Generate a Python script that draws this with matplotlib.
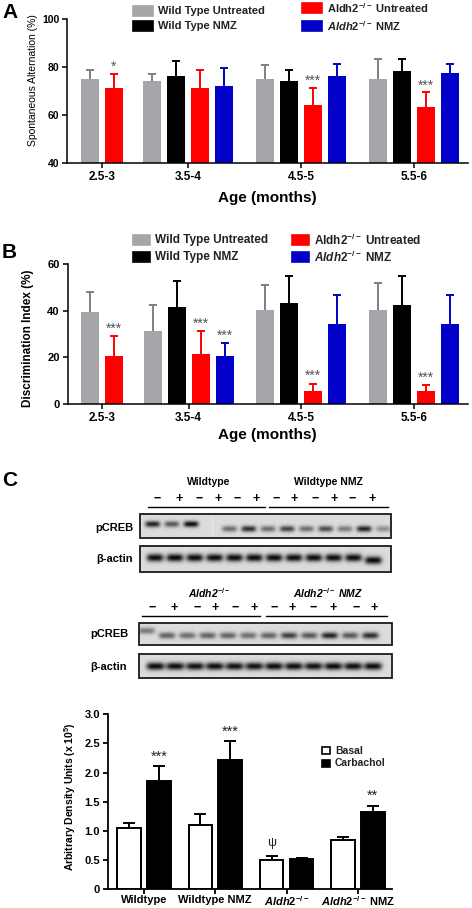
import numpy as np
import matplotlib
matplotlib.use("Agg")
import matplotlib.pyplot as plt
from matplotlib.patches import Rectangle

W, H = 472, 908

plt.rcParams["font.family"] = ["Liberation Sans", "DejaVu Sans"]
plt.rcParams["font.weight"] = "bold"
plt.rcParams["mathtext.fontset"] = "custom"
plt.rcParams["mathtext.rm"] = "Liberation Sans:bold"
plt.rcParams["mathtext.it"] = "Liberation Sans:italic:bold"
plt.rcParams["mathtext.bf"] = "Liberation Sans:bold"

# ---- data -------------------------------------------------------------
ages = ["2.5-3", "3.5-4", "4.5-5", "5.5-6"]
series_names = ["Wild Type Untreated", "Wild Type NMZ",
                r"Aldh2$^{-/-}$ Untreated", r"$\mathit{Aldh2}^{-/-}$ NMZ"]
nan = np.nan

# A: spontaneous alternation (%)
sa_wt_untr = [75.1, 74.3, 75.1, 75.1]
sa_wt_untr_err = [3.8, 2.9, 5.6, 8.1]
sa_wt_nmz = [nan, 76.1, 74.3, 78.2]
sa_wt_nmz_err = [nan, 6.4, 4.6, 5.2]
sa_ko_untr = [71.3, 71.3, 64.2, 63.2]
sa_ko_untr_err = [5.9, 7.6, 7.0, 6.2]
sa_ko_nmz = [nan, 72.2, 76.1, 77.3]
sa_ko_nmz_err = [nan, 7.2, 5.0, 4.1]
sa_stars = [["", "", "", ""], ["", "", "", ""], ["*", "", "***", "***"], ["", "", "", ""]]

# B: discrimination index (%)
di_wt_untr = [39.4, 31.4, 40.3, 40.3]
di_wt_untr_err = [8.6, 10.9, 10.8, 11.7]
di_wt_nmz = [nan, 41.7, 43.4, 42.4]
di_wt_nmz_err = [nan, 10.9, 11.5, 12.5]
di_ko_untr = [20.4, 21.3, 5.4, 5.4]
di_ko_untr_err = [8.7, 9.8, 3.3, 2.6]
di_ko_nmz = [nan, 20.4, 34.1, 34.1]
di_ko_nmz_err = [nan, 5.6, 12.8, 12.8]
di_stars = [["", "", "", ""], ["", "", "", ""], ["***", "***", "***", "***"], ["", "***", "", ""]]

# C: pCREB density (x 10^5)
c_groups = ["Wildtype", "Wildtype NMZ", r"$\mathit{Aldh2}^{-/-}$", r"$\mathit{Aldh2}^{-/-}$ NMZ"]
c_basal = [1.05, 1.10, 0.49, 0.85]
c_basal_err = [0.09, 0.18, 0.07, 0.05]
c_carb = [1.85, 2.22, 0.52, 1.32]
c_carb_err = [0.26, 0.32, 0.02, 0.11]
c_basal_marks = ["", "", "\u03c8", ""]
c_carb_marks = ["***", "***", "", "**"]

# blot band darkness per lane (0 = no band)
blot1_pcreb = [0.85, 0.6, 0.95, 0.0, 0.5, 0.8, 0.5, 0.7, 0.5, 0.65, 0.45, 0.85, 0.35]
blot1_actin = [0.95, 0.97, 0.95, 0.95, 0.95, 0.95, 0.95, 0.95, 0.95, 0.95, 0.95, 0.97]
blot2_pcreb = [0.45, 0.55, 0.5, 0.55, 0.55, 0.5, 0.55, 0.72, 0.6, 0.85, 0.6, 0.8]
blot2_actin = [0.97, 0.95, 0.93, 0.95, 0.93, 0.93, 0.95, 0.95, 0.93, 0.95, 0.95, 0.95]
signs = ["\u2212", "+", "\u2212", "+", "\u2212", "+"]

colors = ["#a6a6aa", "#000000", "#ff0000", "#0000c8"]
err_colors = ["#7f7f7f", "#000000", "#ff0000", "#0000c8"]
star_color = "#555555"

fig = plt.figure(figsize=(W / 100, H / 100), dpi=100)


def px_axes(x0, y0, x1, y1):
    return fig.add_axes([x0 / W, 1 - y1 / H, (x1 - x0) / W, (y1 - y0) / H])


def style_axes(ax, lw=1.1):
    for s in ("top", "right"):
        ax.spines[s].set_visible(False)
    for s in ("left", "bottom"):
        ax.spines[s].set_linewidth(lw)
    ax.tick_params(direction="out", length=3.5, width=lw, pad=2)


def upper_err(ax, x, y, e, color, capsize, lw=1.4):
    _, caps, _ = ax.errorbar(x, y, yerr=[[0], [e]], fmt="none", ecolor=color,
                             elinewidth=lw, capsize=capsize, capthick=lw, zorder=1)
    caps[0].remove()


def grouped(ax, values, errors, stars, group_pos, star_off):
    nser = len(values)
    for g in range(len(group_pos)):
        present = [s for s in range(nser) if not np.isnan(values[s][g])]
        offs = np.arange(len(present)) - (len(present) - 1) / 2
        for k, s in enumerate(present):
            x = group_pos[g] + offs[k]
            ax.bar(x, values[s][g], width=0.75, color=colors[s], zorder=2)
            upper_err(ax, x, values[s][g], errors[s][g], err_colors[s], 3.2)
            if stars[s][g]:
                ax.annotate(stars[s][g], (x, values[s][g] + errors[s][g]),
                            xytext=(0, star_off), textcoords="offset points",
                            ha="center", va="center", color=star_color,
                            fontsize=10, fontweight="normal")


group_pos = [1.45, 5.05, 9.75, 14.45]

# ---- panel A ----------------------------------------------------------
axA = px_axes(67, 19, 468, 163)
grouped(axA, [sa_wt_untr, sa_wt_nmz, sa_ko_untr, sa_ko_nmz],
        [sa_wt_untr_err, sa_wt_nmz_err, sa_ko_untr_err, sa_ko_nmz_err],
        sa_stars, group_pos, 5)
axA.set_ylim(40, 100)
axA.set_xlim(0, 16.7)
axA.set_yticks([40, 60, 80, 100])
axA.set_xticks(group_pos)
axA.set_xticklabels(ages, fontsize=8.5)
axA.tick_params(axis="y", labelsize=7.5)
style_axes(axA)

# ---- panel B ----------------------------------------------------------
axB = px_axes(67.5, 264, 468, 404)
grouped(axB, [di_wt_untr, di_wt_nmz, di_ko_untr, di_ko_nmz],
        [di_wt_untr_err, di_wt_nmz_err, di_ko_untr_err, di_ko_nmz_err],
        di_stars, group_pos, 5.5)
axB.set_ylim(0, 60)
axB.set_xlim(0, 16.7)
axB.set_yticks([0, 20, 40, 60])
axB.set_xticks(group_pos)
axB.set_xticklabels(ages, fontsize=8.5)
axB.tick_params(axis="y", labelsize=8)
style_axes(axB)

# ---- panel C bars -----------------------------------------------------
axC = px_axes(107.7, 714.3, 392, 889)
cx = np.arange(len(c_groups))
bw, off = 0.33, 0.21
for i in cx:
    axC.bar(i - off, c_basal[i], width=bw, color="white", edgecolor="black", linewidth=1.4, zorder=2)
    axC.bar(i + off, c_carb[i], width=bw, color="black", edgecolor="black", linewidth=1.4, zorder=2)
    upper_err(axC, i - off, c_basal[i], c_basal_err[i], "black", 4)
    upper_err(axC, i + off, c_carb[i], c_carb_err[i], "black", 4)
    if c_carb_marks[i]:
        axC.annotate(c_carb_marks[i], (i + off, c_carb[i] + c_carb_err[i]), xytext=(0, 7),
                     textcoords="offset points", ha="center", va="center",
                     fontsize=10.5, fontweight="normal", color="#222222")
    if c_basal_marks[i]:
        axC.annotate(c_basal_marks[i], (i - off, c_basal[i] + c_basal_err[i]), xytext=(0, 10),
                     textcoords="offset points", ha="center", va="center",
                     fontsize=9, fontweight="normal", color="#222222")
axC.set_xlim(-0.51, 3.48)
axC.set_ylim(0, 3.0)
axC.set_yticks([0, 0.5, 1.0, 1.5, 2.0, 2.5, 3.0])
axC.set_yticklabels(["0", "0.5", "1.0", "1.5", "2.0", "2.5", "3.0"], fontsize=8)
axC.set_xticks(cx)
axC.set_xticklabels(c_groups, fontsize=8)
style_axes(axC, lw=1.3)
axC.tick_params(axis="x", pad=0.5)

# ---- overlay for labels, legends and blots ----------------------------
ov = fig.add_axes([0, 0, 1, 1])
ov.patch.set_visible(False)
ov.axis("off")

# panel letters
for letter, y in (("A", 12), ("B", 252), ("C", 481)):
    ov.text(2, y, letter, fontsize=15, fontweight="bold", va="center", ha="left")

# axis titles
ov.text(267, 198, "Age (months)", fontsize=11, ha="center", va="center")
ov.text(267, 435, "Age (months)", fontsize=11, ha="center", va="center")
ov.text(33, 80, "Spontaneous Alternation (%)", fontsize=7.5, fontweight="normal",
        rotation=90, ha="center", va="center")
ov.text(28, 338, "Discrimination Index (%)", fontsize=8.5, rotation=90, ha="center", va="center")
ov.text(70, 797, r"Arbitrary Density Units (x 10$^5$)", fontsize=7.5, rotation=90,
        ha="center", va="center")


def legend_item(x, y, w, h, fc, label, fs, ec=None):
    ov.add_patch(Rectangle((x, y - h / 2), w, h, facecolor=fc, edgecolor=ec or fc, lw=1.2))
    ov.text(x + w + 5, y, label, fontsize=fs, ha="left", va="center", color="#222222")


# legend A
legA = [(133, 11), (133, 26), (302, 8), (302, 26)]
for s, (x, y) in enumerate(legA):
    legend_item(x, y, 20, 10, colors[s], series_names[s], 8)
# legend B
legB = [(133, 240), (133, 257), (292, 240), (292, 257)]
for s, (x, y) in enumerate(legB):
    legend_item(x, y, 17, 10, colors[s], series_names[s], 8.5)
# legend C
legend_item(322, 750.5, 8, 7, "white", "Basal", 7.5, ec="black")
legend_item(322, 763.5, 8, 7, "black", "Carbachol", 7.5)


def blot_strip(x0, y0, x1, y1, levels, centers, ycs, hw, hh, bg=0.86):
    nx, ny = int((x1 - x0) * 4), int((y1 - y0) * 4)
    X, Y = np.meshgrid(np.linspace(0, 1, nx), np.linspace(0, 1, ny))
    dark = np.zeros_like(X)
    for lev, c, yc in zip(levels, centers, ycs):
        dark += lev * np.exp(-((X - c) / hw) ** 4 - ((Y - yc) / hh) ** 2)
    img = bg * (1 - np.clip(dark, 0, 0.95))
    ov.imshow(img, cmap="gray", vmin=0, vmax=1, extent=(x0, x1, y1, y0),
              aspect="auto", interpolation="bilinear", zorder=1)
    ov.add_patch(Rectangle((x0, y0), x1 - x0, y1 - y0, fill=False, ec="#1a1a1a", lw=1.3, zorder=2))


def header(y_title, titles, y_signs, xs1, xs2, y_line, lines, italic):
    for (xc, t) in titles:
        ov.text(xc, y_title, t, fontsize=7.5, ha="center", va="center",
                style="italic" if italic else "normal")
    for x, s in zip(xs1 + xs2, signs + signs):
        ov.text(x, y_signs, s, fontsize=9, ha="center", va="center")
    for a, b in lines:
        ov.plot([a, b], [y_line, y_line], color="black", lw=1.0)


header(482, [(209, "Wildtype"), (328, "Wildtype NMZ")], 499,
       [157, 179, 199, 218, 237, 256], [276, 294, 315, 334, 352, 372],
       507, [(148, 265), (269, 388)], False)
header(593, [(209, r"Aldh2$^{-/-}$"), (328, r"Aldh2$^{-/-}$ NMZ")], 608,
       [152, 174, 197, 215, 235, 254], [274, 292, 313, 333, 356, 374],
       616, [(142, 260), (266, 387)], True)

n1 = len(blot1_pcreb)
blot_strip(140, 514, 391, 538, blot1_pcreb, np.linspace(0.05, 0.97, n1),
           [0.42] * 3 + [0.62] * (n1 - 3), 0.03, 0.13)
ov.plot([140 + 0.288 * 251] * 2, [515, 537], color="#e8e8e8", lw=0.8, zorder=1.5)
blot_strip(140, 546, 391, 572, blot1_actin, np.linspace(0.06, 0.93, len(blot1_actin)),
           [0.45] * 11 + [0.55], 0.034, 0.15)
blot_strip(139, 623, 392, 645, blot2_pcreb, np.linspace(0.03, 0.915, len(blot2_pcreb)),
           [0.35] + [0.57] * 11, 0.033, 0.15)
blot_strip(139, 654, 392, 678, blot2_actin, np.linspace(0.065, 0.925, len(blot2_actin)),
           [0.51] * 12, 0.036, 0.16)

for x, y, t in ((133, 528, "pCREB"), (133, 559, "\u03b2-actin"),
                (128, 634, "pCREB"), (127, 667, "\u03b2-actin")):
    ov.text(x, y, t, fontsize=8, ha="right", va="center")

ov.set_xlim(0, W)
ov.set_ylim(H, 0)

fig.savefig("out.png", dpi=100, facecolor="white")
